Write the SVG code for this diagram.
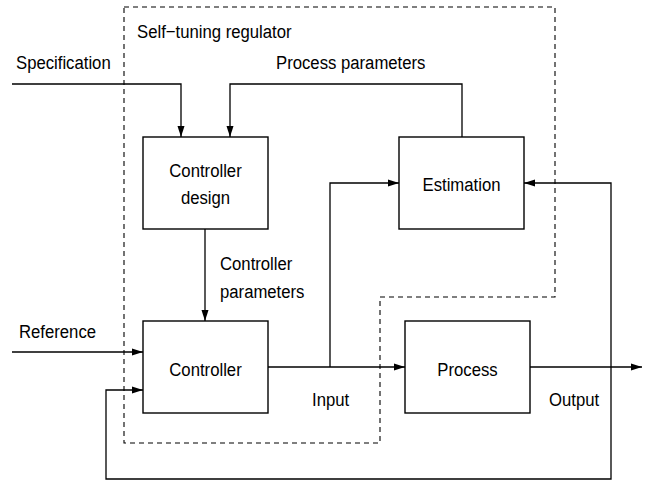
<svg xmlns="http://www.w3.org/2000/svg" width="651" height="482" viewBox="0 0 651 482">
<style>
.box{fill:#fff;stroke:#000;stroke-width:1.4}
.ln{fill:none;stroke:#000;stroke-width:1.3}
.dash{fill:none;stroke:#000;stroke-width:1.1;stroke-dasharray:5,4}
text{font-family:"Liberation Sans",Arial,sans-serif;font-size:19px;fill:#000}
.c{text-anchor:middle}
</style>
<defs>
<marker id="ah" markerWidth="12" markerHeight="8" refX="11" refY="4" orient="auto" markerUnits="userSpaceOnUse">
<path d="M0,0.5 L11,4 L0,7.5 z" fill="#000"/>
</marker>
</defs>
<rect width="651" height="482" fill="#fff"/>
<path class="dash" d="M124,7 H555 V297 H380 V443 H124 Z"/>
<text transform="translate(137,38) scale(0.88,1)">Self−tuning regulator</text>
<g id="connectors">
<path class="ln" d="M12,84 H181 V137" marker-end="url(#ah)"/>
<path class="ln" d="M462,137 V84 H230 V137" marker-end="url(#ah)"/>
<path class="ln" d="M205,229 V321" marker-end="url(#ah)"/>
<path class="ln" d="M12,352 H143" marker-end="url(#ah)"/>
<path class="ln" d="M268,367 H405" marker-end="url(#ah)"/>
<path class="ln" d="M330,367 V183 H399" marker-end="url(#ah)"/>
<path class="ln" d="M530,367 H642" marker-end="url(#ah)"/>
<path class="ln" d="M611,367 V183 H524" marker-end="url(#ah)"/>
<path class="ln" d="M611,367 V479 H106 V390 H143" marker-end="url(#ah)"/>
<text transform="translate(16,69) scale(0.88,1)">Specification</text>
<text transform="translate(276,69) scale(0.88,1)">Process parameters</text>
<text transform="translate(220,270) scale(0.88,1)">Controller</text>
<text transform="translate(220,298) scale(0.88,1)">parameters</text>
<text transform="translate(19,338) scale(0.88,1)">Reference</text>
<text transform="translate(312,406) scale(0.88,1)">Input</text>
<text transform="translate(549,406) scale(0.88,1)">Output</text>
</g>
<g id="controller-design">
<rect class="box" x="143" y="137" width="125" height="92"/>
<text class="c" transform="translate(205.5,177) scale(0.88,1)">Controller</text>
<text class="c" transform="translate(205.5,204) scale(0.88,1)">design</text>
</g>
<g id="estimation">
<rect class="box" x="399" y="137" width="125" height="92"/>
<text class="c" transform="translate(461.5,191) scale(0.88,1)">Estimation</text>
</g>
<g id="controller">
<rect class="box" x="143" y="321" width="125" height="92"/>
<text class="c" transform="translate(205.5,376) scale(0.88,1)">Controller</text>
</g>
<g id="process">
<rect class="box" x="405" y="321" width="125" height="92"/>
<text class="c" transform="translate(467.5,376) scale(0.88,1)">Process</text>
</g>
</svg>
